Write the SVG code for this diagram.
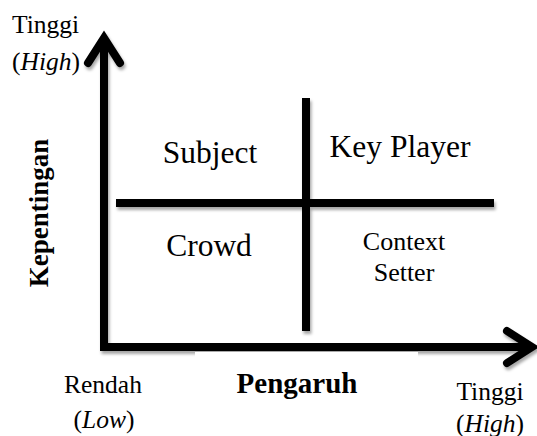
<svg xmlns="http://www.w3.org/2000/svg" width="537" height="436" viewBox="0 0 537 436">
  <defs>
    <filter id="shadow" x="-10%" y="-10%" width="120%" height="120%">
      <feDropShadow dx="1.5" dy="3" stdDeviation="1.8" flood-color="#000" flood-opacity="0.35"/>
    </filter>
    <style>
      .ln { fill: none; stroke: #000; stroke-width: 8; }
      text { fill: #000; }
    </style>
  </defs>
  <rect width="537" height="436" fill="#fff"/>

  <g id="connectors" filter="url(#shadow)">
    <path class="ln" d="M104,42 L104,347 L528,347" stroke-linejoin="miter"/>
    <polyline class="ln" points="88,63 104,38 120,63" stroke-linecap="round" stroke-linejoin="miter"/>
    <polyline class="ln" points="507,331 532,347 507,363" stroke-linecap="round" stroke-linejoin="miter"/>
    <line class="ln" x1="116" y1="203" x2="494" y2="203"/>
    <line class="ln" x1="306" y1="98" x2="306" y2="331"/>
  </g>
  <rect x="195" y="352" width="223" height="10" fill="#fff"/>

  <g font-family="'Liberation Serif', 'Times New Roman', serif">
    <g id="y-high" font-size="25.5">
      <text x="12" y="33">Tinggi</text>
      <text x="12" y="70">(<tspan font-style="italic">High</tspan>)</text>
    </g>
    <g id="y-axis-label">
      <text font-weight="bold" font-size="27" transform="translate(48,213) rotate(-90)" text-anchor="middle">Kepentingan</text>
    </g>
    <g id="subject">
      <text font-size="31.5" x="210" y="163" text-anchor="middle">Subject</text>
    </g>
    <g id="key-player">
      <text font-size="31.5" x="400" y="157" text-anchor="middle">Key Player</text>
    </g>
    <g id="crowd">
      <text font-size="31.5" x="209" y="256" text-anchor="middle">Crowd</text>
    </g>
    <g id="context-setter" font-size="26">
      <text x="404" y="250" text-anchor="middle">Context</text>
      <text x="404" y="281" text-anchor="middle">Setter</text>
    </g>
    <g id="x-low" font-size="25.5">
      <text x="103" y="393" text-anchor="middle">Rendah</text>
      <text x="104" y="428" text-anchor="middle">(<tspan font-style="italic">Low</tspan>)</text>
    </g>
    <g id="x-axis-label">
      <text font-weight="bold" font-size="29" x="297" y="393" text-anchor="middle">Pengaruh</text>
    </g>
    <g id="x-high" font-size="25.5">
      <text x="490" y="400" text-anchor="middle">Tinggi</text>
      <text x="490" y="432" text-anchor="middle">(<tspan font-style="italic">High</tspan>)</text>
    </g>
  </g>
</svg>
